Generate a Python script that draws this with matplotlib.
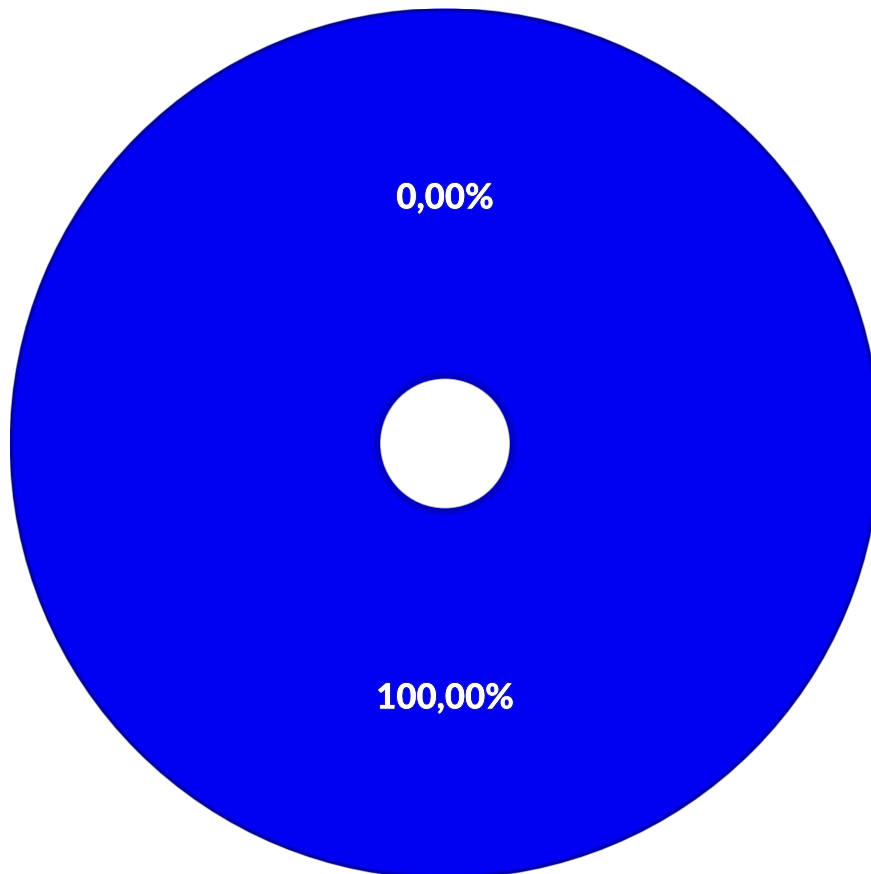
import numpy as np
import matplotlib
matplotlib.use("Agg")
import matplotlib.pyplot as plt
import matplotlib.patheffects as pe
from matplotlib.patches import Circle

labels = ["A", "B"]
values = [0.0, 100.0]
colors = ["#0000F0", "#0000F2"]

fig = plt.figure(figsize=(8.71, 8.74), dpi=100)
# axes sized so the donut centre sits at (445, 443.5) px with radius 435 px
ax = fig.add_axes([10 / 871, -4.5 / 874, 870 / 871, 870 / 874])

def fmt(pct):
    return ("%.2f" % pct).replace(".", ",") + "%"

wedges, texts, autotexts = ax.pie(
    values, colors=colors, startangle=90, counterclock=False,
    radius=1.0, autopct=fmt, pctdistance=250 / 435,
    wedgeprops=dict(width=1 - 65 / 435, edgecolor="none", linewidth=0),
    textprops=dict(color="white", fontsize=25, fontweight="black", family="Lato"),
)

# soft dark rim on the outer edge and round the hole
for i in range(6):
    ax.add_patch(Circle((0, 0), 1.0 - i * 0.0015, fill=False,
                        edgecolor="#000060", linewidth=1.2, alpha=0.35 - i * 0.05))
    ax.add_patch(Circle((0, 0), 65 / 435 + i * 0.003, fill=False,
                        edgecolor="#000060", linewidth=1.2, alpha=0.35 - i * 0.05))

for t in autotexts:
    t.set_y(t.get_position()[1] - 5 / 435)
    t.set_path_effects([pe.withStroke(linewidth=2, foreground="#303070", alpha=0.5),
                        pe.Normal()])

ax.set_xlim(-1, 1)
ax.set_ylim(-1, 1)
ax.set_aspect("equal")
ax.axis("off")

fig.savefig("out.png", dpi=100)
